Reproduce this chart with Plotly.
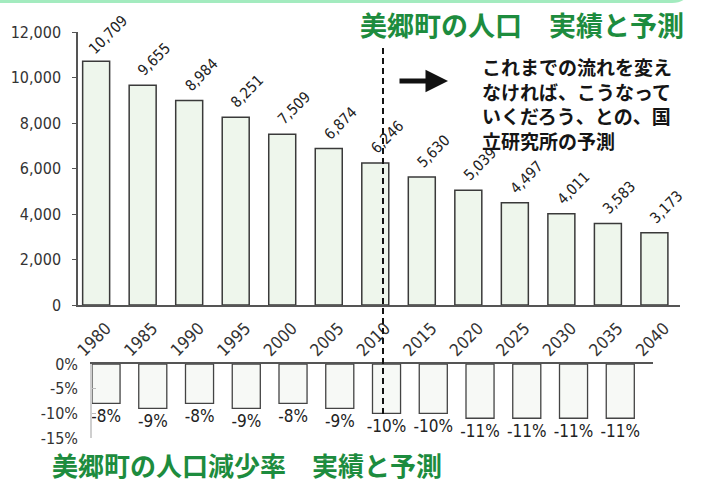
import plotly.graph_objects as go

W, H = 707, 481

years = ["1980", "1985", "1990", "1995", "2000", "2005", "2010",
         "2015", "2020", "2025", "2030", "2035", "2040"]
population = [10709, 9655, 8984, 8251, 7509, 6874, 6246,
              5630, 5039, 4497, 4011, 3583, 3173]
change_pct = [-8, -9, -8, -9, -8, -9, -10, -10, -11, -11, -11, -11]
change_idx = list(range(len(change_pct)))

title_top = "美郷町の人口　実績と予測"
title_bottom = "美郷町の人口減少率　実績と予測"
note_lines = ["これまでの流れを変え", "なければ、こうなって",
              "いくだろう、との、国", "立研究所の予測"]

NUM_FONT = "DejaVu Sans Condensed, DejaVu Sans, sans-serif"
JP_FONT = "Noto Sans CJK JP, sans-serif"
GREEN = "#1d8c3e"


def px(x):
    return x / W


def py(y):
    return 1 - y / H


fig = go.Figure()

fig.add_trace(go.Bar(
    x=list(range(len(years))), y=population,
    marker=dict(color="#eef6ec", line=dict(color="#3a3a3a", width=1.5)),
    width=0.58, xaxis="x", yaxis="y", showlegend=False, hoverinfo="skip",
))

fig.add_trace(go.Bar(
    x=change_idx, y=change_pct,
    marker=dict(color="#f7f9f6", line=dict(color="#444444", width=1.3)),
    width=0.6, xaxis="x2", yaxis="y2", showlegend=False, hoverinfo="skip",
    text=[f"{v}%" for v in change_pct], textposition="outside",
    constraintext="none",
    textfont=dict(family=NUM_FONT, size=17, color="#222"),
    cliponaxis=False,
))

annotations = []
for i, v in enumerate(population):
    annotations.append(dict(
        x=i, y=v, xref="x", yref="y", text=f"{v:,}", showarrow=False,
        textangle=-45, xanchor="center", yanchor="middle",
        xshift=12, yshift=26,
        font=dict(family=NUM_FONT, size=15, color="#222"),
    ))

annotations.append(dict(
    x=px(522), y=py(25), xref="paper", yref="paper", text=f"<b>{title_top}</b>",
    showarrow=False, xanchor="center", yanchor="middle",
    font=dict(family=JP_FONT, size=27, color=GREEN),
))
annotations.append(dict(
    x=px(247), y=py(480), xref="paper", yref="paper", text=f"<b>{title_bottom}</b>",
    showarrow=False, xanchor="center", yanchor="bottom", borderpad=0,
    height=30, valign="middle",
    font=dict(family=JP_FONT, size=26, color=GREEN),
))
annotations.append(dict(
    x=px(480), y=py(51), xref="paper", yref="paper",
    text="<br>".join(f"<b>{t}</b>" for t in note_lines),
    showarrow=False, xanchor="left", yanchor="top", align="left",
    font=dict(family=JP_FONT, size=19, color="#151515"),
))
annotations.append(dict(
    x=px(448), y=py(81), xref="paper", yref="paper", text="",
    showarrow=True, ax=-50, ay=0, arrowhead=2, arrowsize=0.9,
    arrowwidth=5, arrowcolor="#111",
))

shapes = [
    dict(type="line", xref="paper", yref="paper",
         x0=px(383), x1=px(383), y0=py(48), y1=py(417),
         line=dict(color="#111", width=2, dash="6px,4px")),
    dict(type="path", xref="paper", yref="paper",
         path=f"M {px(0)},{py(1.5)} L {px(672)},{py(1.5)} Q {px(684)},{py(1.5)} {px(688)},{py(-8)}",
         line=dict(color="#a3ebbf", width=3)),
]

fig.update_layout(
    template="none",
    width=W, height=H, autosize=False,
    margin=dict(l=0, r=0, t=0, b=0, pad=0, autoexpand=False),
    paper_bgcolor="white", plot_bgcolor="rgba(0,0,0,0)",
    showlegend=False,
    xaxis=dict(
        domain=[px(78), px(680)], range=[-0.39, 12.55], anchor="y",
        tickmode="array", tickvals=list(range(len(years))), ticktext=years,
        tickangle=-45, ticks="", showline=True, linecolor="#555", linewidth=1.5,
        showgrid=False, zeroline=False, automargin=False,
        tickfont=dict(family=NUM_FONT, size=17, color="#333"),
        ticklabelshift=10, ticklabelstandoff=5,
    ),
    yaxis=dict(
        domain=[py(305), py(32)], range=[0, 12000], anchor="x",
        tickvals=[0, 2000, 4000, 6000, 8000, 10000, 12000],
        tickformat=",d", ticks="outside", ticklen=4, tickcolor="#555",
        showline=True, linecolor="#555", linewidth=1.5,
        showgrid=False, zeroline=False, automargin=False,
        tickfont=dict(family=NUM_FONT, size=16, color="#333"),
        ticklabelstandoff=8,
    ),
    xaxis2=dict(
        domain=[px(92), px(653)], range=[-0.3, 11.7], anchor="y2", side="top",
        showticklabels=False, ticks="", showline=True, linecolor="#555",
        linewidth=1.5, showgrid=False, zeroline=False, automargin=False,
    ),
    yaxis2=dict(
        domain=[py(438), py(364)], range=[-15, 0], anchor="x2",
        tickvals=[0, -5, -10, -15], ticktext=["0%", "-5%", "-10%", "-15%"],
        ticks="inside", ticklen=4, tickcolor="#bbb",
        showline=True, linecolor="#cfcfcf", linewidth=1.5,
        showgrid=False, zeroline=False, automargin=False,
        tickfont=dict(family=NUM_FONT, size=16, color="#333"),
        ticklabelstandoff=9,
    ),
    annotations=annotations,
    shapes=shapes,
)

post = (
    "document.documentElement.style.cssText='margin:0;padding:0;overflow:hidden;height:481px;';"
    "document.body.style.cssText='margin:0;padding:0;overflow:hidden;height:481px;';"
    "var gd=document.getElementById('{plot_id}');"
    "gd.style.position='absolute';gd.style.left='0px';gd.style.top='0px';"
)

fig.write_html("out.html", config={"displayModeBar": False}, post_script=post)
